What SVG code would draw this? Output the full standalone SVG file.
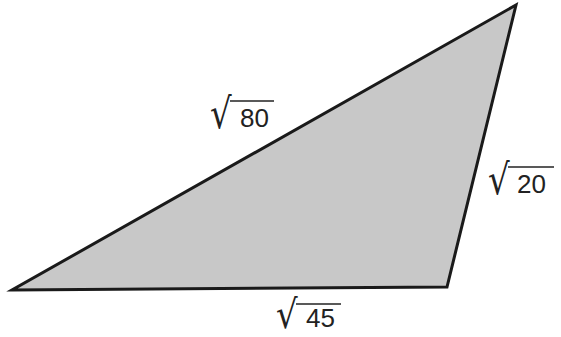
<svg xmlns="http://www.w3.org/2000/svg" width="561" height="337" viewBox="0 0 561 337">
<style>
.lbl{font-family:"Liberation Sans",Arial,sans-serif;font-size:26px;fill:#222}
.rad{font-family:"DejaVu Sans",sans-serif;font-size:34px;fill:#222}
.bar{stroke:#222;stroke-width:1.5}
</style>
<rect width="561" height="337" fill="#fff"/>
<g id="triangle">
<polygon points="12,290 447,287 516,5" fill="#c8c8c8" stroke="#1a1a1a" stroke-width="3" stroke-linejoin="miter"/>
</g>
<g id="label-80">
<text class="rad" transform="translate(210,128) scale(1,1.24)">√</text>
<line class="bar" x1="230" y1="101" x2="274" y2="101"/>
<text class="lbl" x="240" y="127">80</text>
</g>
<g id="label-20">
<text class="rad" transform="translate(488,194) scale(1,1.24)">√</text>
<line class="bar" x1="508" y1="167" x2="554" y2="167"/>
<text class="lbl" x="517" y="193">20</text>
</g>
<g id="label-45">
<text class="rad" transform="translate(276,328) scale(1,1.16)">√</text>
<line class="bar" x1="296" y1="304" x2="341" y2="304"/>
<text class="lbl" x="306" y="327">45</text>
</g>
</svg>
